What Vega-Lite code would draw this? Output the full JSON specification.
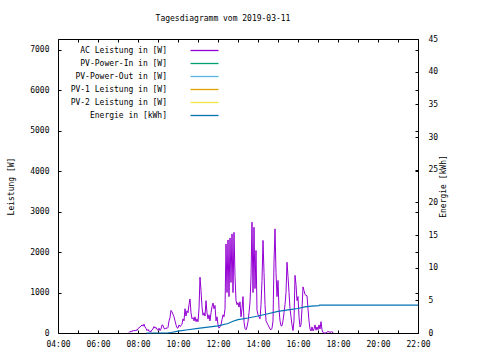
{
 "$schema": "https://vega.github.io/schema/vega-lite/v6.json",
 "width": 360, "height": 294,
 "autosize": {"type": "none"},
 "padding": {"left": 58, "top": 39, "right": 62, "bottom": 27},
 "background": "white",
 "title": {"text": "Tagesdiagramm vom 2019-03-11", "font": "DejaVu Sans Mono", "fontSize": 8, "fontWeight": "normal", "color": "black", "offset": 12, "dx": -15},
 "config": {
  "view": {"stroke": "black", "strokeWidth": 1},
  "axis": {"grid": false, "labelFont": "DejaVu Sans Mono", "labelFontSize": 8, "labelColor": "black", "titleFont": "DejaVu Sans Mono", "titleFontSize": 8, "titleFontWeight": "normal", "titleColor": "black", "domain": false, "tickColor": "black", "tickSize": -3},
  "legend": {"orient": "none", "legendX": 142, "legendY": 7, "symbolType": "M-4,0H4", "symbolSize": 49, "symbolStrokeWidth": 1.3, "labelAlign": "right", "labelOffset": -42, "labelFont": "DejaVu Sans Mono", "labelFontSize": 8, "labelColor": "black", "rowPadding": 4, "padding": 0}
 },
 "datasets": {
  "ac": [
   {"t":"07:33","v":10},{"t":"07:36","v":40},{"t":"07:39","v":25},{"t":"07:42","v":60},{"t":"07:45","v":40},{"t":"07:48","v":70},{"t":"07:51","v":50},{"t":"07:54","v":80},{"t":"07:57","v":60},
   {"t":"08:00","v":110},{"t":"08:03","v":130},{"t":"08:06","v":150},{"t":"08:09","v":170},{"t":"08:12","v":200},{"t":"08:15","v":170},{"t":"08:18","v":220},{"t":"08:21","v":150},{"t":"08:24","v":110},{"t":"08:27","v":60},{"t":"08:30","v":90},{"t":"08:33","v":40},{"t":"08:36","v":50},{"t":"08:39","v":30},{"t":"08:42","v":80},{"t":"08:45","v":100},{"t":"08:48","v":160},{"t":"08:51","v":120},{"t":"08:54","v":140},{"t":"08:57","v":90},
   {"t":"09:00","v":70},{"t":"09:03","v":120},{"t":"09:06","v":60},{"t":"09:09","v":100},{"t":"09:12","v":200},{"t":"09:15","v":190},{"t":"09:18","v":110},{"t":"09:21","v":100},{"t":"09:24","v":130},{"t":"09:27","v":110},{"t":"09:30","v":140},{"t":"09:33","v":300},{"t":"09:36","v":380},{"t":"09:39","v":560},{"t":"09:42","v":520},{"t":"09:45","v":460},{"t":"09:48","v":400},{"t":"09:51","v":300},{"t":"09:54","v":200},{"t":"09:57","v":130},
   {"t":"10:00","v":120},{"t":"10:03","v":200},{"t":"10:06","v":160},{"t":"10:09","v":180},{"t":"10:12","v":220},{"t":"10:15","v":350},{"t":"10:18","v":300},{"t":"10:21","v":600},{"t":"10:24","v":420},{"t":"10:27","v":550},{"t":"10:30","v":500},{"t":"10:33","v":700},{"t":"10:36","v":840},{"t":"10:39","v":500},{"t":"10:42","v":350},{"t":"10:45","v":380},{"t":"10:48","v":300},{"t":"10:51","v":400},{"t":"10:54","v":280},{"t":"10:57","v":350},
   {"t":"11:00","v":280},{"t":"11:03","v":600},{"t":"11:06","v":1380},{"t":"11:09","v":1050},{"t":"11:12","v":650},{"t":"11:15","v":440},{"t":"11:18","v":500},{"t":"11:21","v":420},{"t":"11:24","v":800},{"t":"11:27","v":500},{"t":"11:30","v":350},{"t":"11:33","v":450},{"t":"11:36","v":300},{"t":"11:39","v":500},{"t":"11:42","v":650},{"t":"11:45","v":740},{"t":"11:48","v":600},{"t":"11:51","v":680},{"t":"11:54","v":300},{"t":"11:57","v":400},
   {"t":"12:00","v":200},{"t":"12:03","v":120},{"t":"12:06","v":150},{"t":"12:09","v":200},{"t":"12:12","v":330},{"t":"12:15","v":450},{"t":"12:18","v":400},{"t":"12:21","v":600},{"t":"12:24","v":2200},{"t":"12:27","v":1000},{"t":"12:30","v":2300},{"t":"12:33","v":900},{"t":"12:36","v":2350},{"t":"12:39","v":1250},{"t":"12:42","v":2450},{"t":"12:45","v":1000},{"t":"12:48","v":2490},{"t":"12:51","v":1400},{"t":"12:54","v":800},{"t":"12:57","v":700},
   {"t":"13:00","v":750},{"t":"13:03","v":640},{"t":"13:06","v":770},{"t":"13:09","v":400},{"t":"13:12","v":600},{"t":"13:15","v":900},{"t":"13:18","v":280},{"t":"13:21","v":115},{"t":"13:24","v":80},{"t":"13:27","v":150},{"t":"13:30","v":280},{"t":"13:33","v":500},{"t":"13:36","v":770},{"t":"13:39","v":1385},{"t":"13:42","v":2740},{"t":"13:45","v":1000},{"t":"13:48","v":2615},{"t":"13:51","v":1100},{"t":"13:54","v":2040},{"t":"13:57","v":565},
   {"t":"14:00","v":450},{"t":"14:03","v":400},{"t":"14:06","v":350},{"t":"14:09","v":700},{"t":"14:12","v":1300},{"t":"14:15","v":2290},{"t":"14:18","v":1500},{"t":"14:21","v":700},{"t":"14:24","v":300},{"t":"14:27","v":250},{"t":"14:30","v":200},{"t":"14:33","v":150},{"t":"14:36","v":100},{"t":"14:39","v":80},{"t":"14:42","v":120},{"t":"14:45","v":300},{"t":"14:48","v":1750},{"t":"14:51","v":2575},{"t":"14:54","v":1500},{"t":"14:57","v":900},
   {"t":"15:00","v":1300},{"t":"15:03","v":600},{"t":"15:06","v":300},{"t":"15:09","v":180},{"t":"15:12","v":180},{"t":"15:15","v":300},{"t":"15:18","v":500},{"t":"15:21","v":700},{"t":"15:24","v":1000},{"t":"15:27","v":1750},{"t":"15:30","v":1400},{"t":"15:33","v":1000},{"t":"15:36","v":600},{"t":"15:39","v":400},{"t":"15:42","v":200},{"t":"15:45","v":60},{"t":"15:48","v":300},{"t":"15:51","v":1425},{"t":"15:54","v":1200},{"t":"15:57","v":800},
   {"t":"16:00","v":900},{"t":"16:03","v":400},{"t":"16:06","v":150},{"t":"16:09","v":200},{"t":"16:12","v":600},{"t":"16:15","v":1140},{"t":"16:18","v":1050},{"t":"16:21","v":950},{"t":"16:24","v":930},{"t":"16:27","v":920},{"t":"16:30","v":600},{"t":"16:33","v":300},{"t":"16:36","v":100},{"t":"16:39","v":50},{"t":"16:42","v":150},{"t":"16:45","v":50},{"t":"16:48","v":100},{"t":"16:51","v":200},{"t":"16:54","v":70},{"t":"16:57","v":150},
   {"t":"17:00","v":80},{"t":"17:03","v":200},{"t":"17:06","v":100},{"t":"17:09","v":280},{"t":"17:12","v":80},{"t":"17:15","v":10},{"t":"17:18","v":0},{"t":"17:21","v":0},{"t":"17:24","v":0},{"t":"17:27","v":20},{"t":"17:30","v":40},{"t":"17:33","v":20},{"t":"17:36","v":30},{"t":"17:39","v":15},{"t":"17:42","v":40},{"t":"17:45","v":0}
  ],
  "en": [
   {"t":"08:25","v":0},{"t":"09:30","v":0.02},{"t":"09:40","v":0.08},{"t":"10:00","v":0.3},{"t":"10:30","v":0.5},{"t":"11:00","v":0.7},{"t":"11:30","v":0.9},{"t":"12:00","v":1.1},{"t":"12:30","v":1.45},{"t":"12:45","v":1.8},{"t":"13:00","v":2.05},{"t":"13:30","v":2.3},{"t":"14:00","v":2.6},{"t":"14:30","v":2.95},{"t":"15:00","v":3.3},{"t":"15:30","v":3.55},{"t":"16:00","v":3.75},{"t":"16:20","v":4.0},{"t":"16:40","v":4.12},{"t":"17:03","v":4.2},{"t":"17:05","v":4.28},{"t":"22:00","v":4.28}
  ],
  "ticks": [{"w":0},{"w":1000},{"w":2000},{"w":3000},{"w":4000},{"w":5000},{"w":6000},{"w":7000}]
 },
 "layer": [
  {
   "data": {"name": "ac", "format": {"parse": {"t": "date:'%H:%M'"}}},
   "mark": {"type": "line", "strokeWidth": 1},
   "encoding": {
    "x": {"field": "t", "type": "temporal",
     "scale": {"domain": [{"year": 1900, "month": 1, "date": 1, "hours": 4}, {"year": 1900, "month": 1, "date": 1, "hours": 22}]},
     "axis": {"orient": "bottom", "title": null, "labelPadding": 10, "values": [{"year":1900,"month":1,"date":1,"hours":4},{"year":1900,"month":1,"date":1,"hours":5},{"year":1900,"month":1,"date":1,"hours":6},{"year":1900,"month":1,"date":1,"hours":7},{"year":1900,"month":1,"date":1,"hours":8},{"year":1900,"month":1,"date":1,"hours":9},{"year":1900,"month":1,"date":1,"hours":10},{"year":1900,"month":1,"date":1,"hours":11},{"year":1900,"month":1,"date":1,"hours":12},{"year":1900,"month":1,"date":1,"hours":13},{"year":1900,"month":1,"date":1,"hours":14},{"year":1900,"month":1,"date":1,"hours":15},{"year":1900,"month":1,"date":1,"hours":16},{"year":1900,"month":1,"date":1,"hours":17},{"year":1900,"month":1,"date":1,"hours":18},{"year":1900,"month":1,"date":1,"hours":19},{"year":1900,"month":1,"date":1,"hours":20},{"year":1900,"month":1,"date":1,"hours":21},{"year":1900,"month":1,"date":1,"hours":22}],
      "labelExpr": "hours(datum.value) % 2 == 0 ? timeFormat(datum.value, '%H:%M') : ''", "labelFlush": false, "labelOverlap": false}},
    "y": {"field": "v", "type": "quantitative", "scale": {"domain": [0, 7270], "nice": false},
     "axis": {"orient": "left", "title": "Leistung [W]", "format": "d", "values": [0,1000,2000,3000,4000,5000,6000,7000], "labelPadding": 12, "titlePadding": 14}},
    "color": {"datum": "AC Leistung in [W]", "type": "nominal",
     "scale": {"domain": ["AC Leistung in [W]", "PV-Power-In in [W]", "PV-Power-Out in [W]", "PV-1 Leistung in [W]", "PV-2 Leistung in [W]", "Energie in [kWh]"],
               "range": ["#9400D3", "#009E73", "#56B4E9", "#E69F00", "#F0E442", "#0072B2"]},
     "legend": {"title": null}}
   }
  },
  {
   "data": {"name": "en", "format": {"parse": {"t": "date:'%H:%M'"}}},
   "mark": {"type": "line", "strokeWidth": 1.2},
   "encoding": {
    "x": {"field": "t", "type": "temporal",
     "axis": {"orient": "top", "title": null, "labels": false, "values": [{"year":1900,"month":1,"date":1,"hours":4},{"year":1900,"month":1,"date":1,"hours":5},{"year":1900,"month":1,"date":1,"hours":6},{"year":1900,"month":1,"date":1,"hours":7},{"year":1900,"month":1,"date":1,"hours":8},{"year":1900,"month":1,"date":1,"hours":9},{"year":1900,"month":1,"date":1,"hours":10},{"year":1900,"month":1,"date":1,"hours":11},{"year":1900,"month":1,"date":1,"hours":12},{"year":1900,"month":1,"date":1,"hours":13},{"year":1900,"month":1,"date":1,"hours":14},{"year":1900,"month":1,"date":1,"hours":15},{"year":1900,"month":1,"date":1,"hours":16},{"year":1900,"month":1,"date":1,"hours":17},{"year":1900,"month":1,"date":1,"hours":18},{"year":1900,"month":1,"date":1,"hours":19},{"year":1900,"month":1,"date":1,"hours":20},{"year":1900,"month":1,"date":1,"hours":21},{"year":1900,"month":1,"date":1,"hours":22}]}},
    "y": {"field": "v", "type": "quantitative", "scale": {"domain": [0, 45], "nice": false},
     "axis": {"orient": "right", "title": "Energie [kWh]", "titleAngle": 270, "values": [0,5,10,15,20,25,30,35,40,45], "labelPadding": 13, "titlePadding": 10}},
    "color": {"datum": "Energie in [kWh]", "type": "nominal", "legend": {"title": null}}
   }
  },
  {
   "data": {"name": "ticks"},
   "mark": {"type": "rule", "strokeOpacity": 0},
   "encoding": {
    "y": {"field": "w", "type": "quantitative", "scale": {"domain": [0, 7270], "nice": false},
     "axis": {"orient": "right", "title": null, "labels": false, "values": [0,1000,2000,3000,4000,5000,6000,7000]}}
   }
  }
 ],
 "resolve": {"scale": {"y": "independent"}, "axis": {"x": "independent", "y": "independent"}}
}
